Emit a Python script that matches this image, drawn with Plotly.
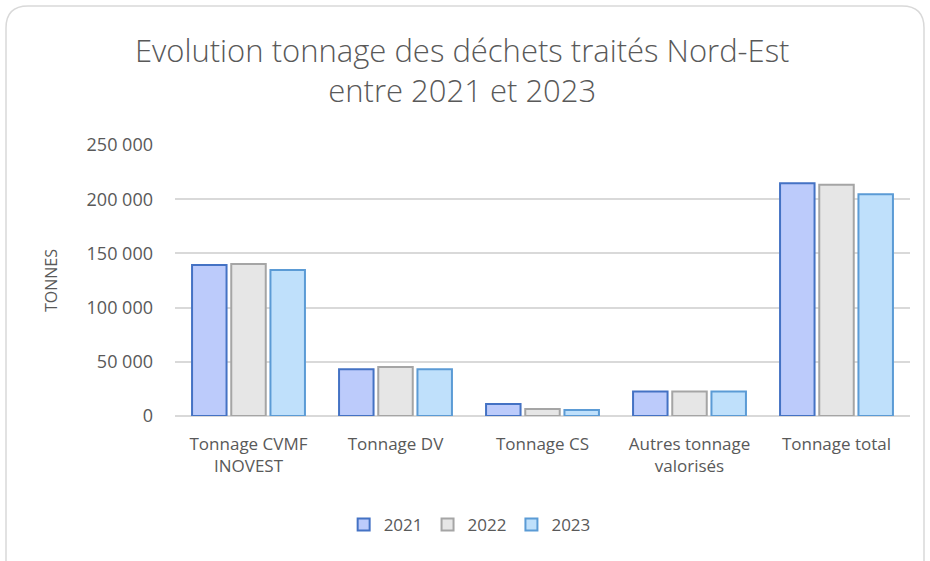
import plotly.graph_objects as go

# Data
categories = ["Tonnage CVMF<br>INOVEST", "Tonnage DV", "Tonnage CS",
              "Autres tonnage<br>valorisés", "Tonnage total"]
years = ["2021", "2022", "2023"]
t_2021 = [139300, 43100, 11000, 22700, 214700]
t_2022 = [140200, 45200, 6500, 22700, 213400]
t_2023 = [134700, 43100, 5500, 22700, 204500]
tick_vals = [0, 50000, 100000, 150000, 200000, 250000]

fills = ["#bccbfb", "#e6e6e6", "#bfe0fb"]
lines = ["#4472c4", "#a5a5a5", "#5b9bd5"]

fig = go.Figure()
for name, vals, fc, lc in zip(years, [t_2021, t_2022, t_2023], fills, lines):
    fig.add_trace(go.Bar(
        x=categories, y=vals, name=name,
        marker=dict(color=fc, line=dict(color=lc, width=2))
    ))

# rounded chart frame (pixel positions converted to paper coords)
l, r, t, b = 175, 20, 145, 145
pw, ph = 930 - l - r, 561 - t - b
def px(x): return (x - l) / pw
def py(y): return (561 - b - y) / ph
x0, x1, y0, y1 = px(6), px(924), py(600), py(6)
rx, ry = 22 / pw, 22 / ph
frame = (f"M {x0},{y0} L {x0},{y1-ry} Q {x0},{y1} {x0+rx},{y1} "
         f"L {x1-rx},{y1} Q {x1},{y1} {x1},{y1-ry} L {x1},{y0}")

fig.update_layout(
    width=930, height=561,
    margin=dict(l=l, r=r, t=t, b=b),
    paper_bgcolor="white", plot_bgcolor="white",
    font=dict(family="Open Sans", color="#595959", size=17),
    separators=", ",
    title=dict(text="Evolution tonnage des déchets traités Nord-Est<br>entre 2021 et 2023",
               x=0.497, xref="container", xanchor="center",
               y=1 - 62 / 561, yref="container", yanchor="middle",
               font=dict(size=31, color="#595959", weight=300)),
    barmode="group", bargap=0.2, bargroupgap=0.12,
    xaxis=dict(showgrid=False, showline=False, ticks="",
               tickfont=dict(size=17), ticklabelstandoff=16, automargin=False),
    yaxis=dict(range=[0, 250000], tickvals=tick_vals, tickformat=",d",
               gridcolor="#d9d9d9", gridwidth=1.5, zeroline=True,
               zerolinecolor="#d9d9d9", zerolinewidth=1.5,
               ticks="", ticklen=0, tickfont=dict(size=18),
               ticklabelstandoff=21, automargin=False,
               title=dict(text="TONNES", font=dict(size=16), standoff=24)),
    legend=dict(orientation="h", x=0.505, xref="container", xanchor="center",
                y=1 - 525 / 561, yref="container", yanchor="middle",
                font=dict(size=17), itemwidth=30, traceorder="normal"),
    shapes=[dict(type="path", path=frame, xref="paper", yref="paper",
                 line=dict(color="#d9d9d9", width=1.5), layer="below")],
)

fig.write_html("out.html", config={"displayModeBar": False},
               post_script="document.body.style.margin='0';")
